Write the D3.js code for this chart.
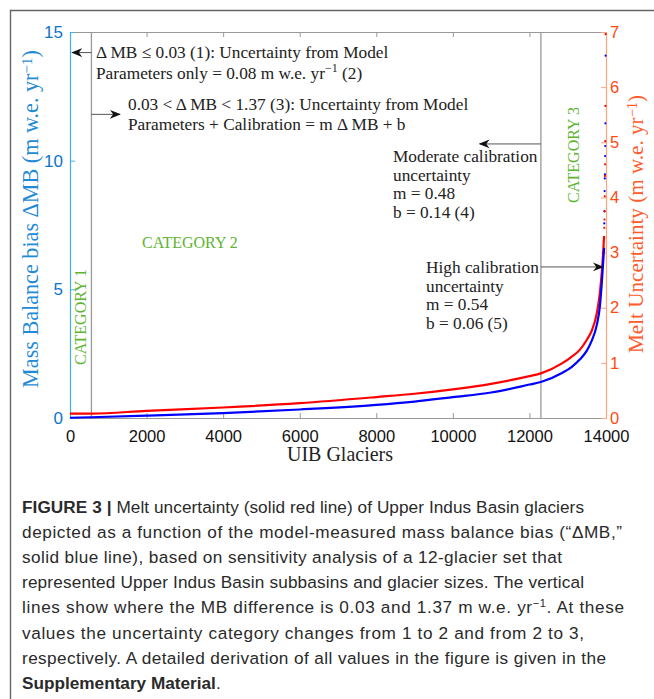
<!DOCTYPE html>
<html>
<head>
<meta charset="utf-8">
<script src="https://cdn.jsdelivr.net/npm/d3@7/dist/d3.min.js"></script>
<style>
body { margin: 0; background: #fff; }
svg { display: block; }
</style>
</head>
<body>
<div id="container"><svg></svg></div>
<script>
let width = 654;
let height = 699;

// glaciers sorted by bias; curves
let glacierIdx = [0, 560, 2000, 4000, 6000, 8000, 9000, 10000, 11000, 12000, 12300, 12850, 13100, 13320, 13500, 13620, 13760, 13840, 13890, 13930, 13950];
let deltaMB = [0.01, 0.03, 0.09, 0.19, 0.33, 0.51, 0.64, 0.81, 0.99, 1.30, 1.40, 1.75, 1.98, 2.28, 2.62, 2.98, 3.62, 4.34, 5.25, 6.16, 6.61];
let meltUnc = [0.08, 0.08, 0.13, 0.19, 0.27, 0.38, 0.44, 0.52, 0.62, 0.76, 0.81, 0.99, 1.11, 1.24, 1.42, 1.57, 1.90, 2.27, 2.64, 3.05, 3.30];

// last few glaciers only show up as single points
let tailIdx = [13955, 13960, 13964, 13968, 13972, 13976, 13980, 13984, 13990];
let tailMB = [7.56, 8.03, 8.82, 9.31, 9.47, 10.18, 10.57, 11.45, 14.08];
let tailMelt = [3.45, 3.60, 3.75, 4.02, 4.39, 4.60, 5.02, 5.66, 6.96];

// category boundaries (glacier index where dMB = 0.03 and 1.37)
let catBounds = [560, 12300];

let xTicks = [0, 2000, 4000, 6000, 8000, 10000, 12000, 14000];
let leftTicks = [0, 5, 10, 15];
let rightTicks = [0, 1, 2, 3, 4, 5, 6, 7];

let captionLines = [
    [{t: 'FIGURE 3 | ', b: true}, {t: 'Melt uncertainty (solid red line) of Upper Indus Basin glaciers'}],
    [{t: 'depicted as a function of the model-measured mass balance bias (\u201c\u0394MB,\u201d'}],
    [{t: 'solid blue line), based on sensitivity analysis of a 12-glacier set that'}],
    [{t: 'represented Upper Indus Basin subbasins and glacier sizes. The vertical'}],
    [{t: 'lines show where the MB difference is 0.03 and 1.37 m w.e. yr'}, {t: '\u22121', sup: true}, {t: '. At these'}],
    [{t: 'values the uncertainty category changes from 1 to 2 and from 2 to 3,'}],
    [{t: 'respectively. A detailed derivation of all values in the figure is given in the'}],
    [{t: 'Supplementary Material', b: true}, {t: '.'}]
];
let captionWidths = [562, 600, 540, 562, 602, 562, 584, null];

const blueAxis = '#3fb0ec', blueText = '#0d74c9';
const redAxis = '#ffa27e', redText = '#ff4a12';
const green = '#5db42f';
const serif = '"Liberation Serif", "Times New Roman", serif';
const sans = '"Liberation Sans", Arial, sans-serif';

// scale font so a label gets the length it has in the figure
function fitText(sel, target) {
    let fs = +sel.attr('font-size');
    let len = sel.node().getComputedTextLength();
    sel.attr('font-size', (fs * target / len).toFixed(2));
}

function draw_chart() {
    let svg = d3.select('#container').select('svg')
        .attr('width', width)
        .attr('height', height);

    svg.append('rect').attr('width', width).attr('height', height).attr('fill', '#fff');

    // outer frame of the figure
    svg.append('path')
        .attr('d', 'M10.5,' + height + 'V10.5H' + width)
        .attr('fill', 'none')
        .attr('stroke', '#666')
        .attr('stroke-width', 1.4);

    let x = d3.scaleLinear().domain([0, 14000]).range([70, 606]);
    let yL = d3.scaleLinear().domain([0, 15]).range([418, 32]);
    let yR = d3.scaleLinear().domain([0, 7]).range([418, 32]);

    let defs = svg.append('defs');
    defs.append('marker')
        .attr('id', 'arrow')
        .attr('viewBox', '0 0 10 10')
        .attr('refX', 9).attr('refY', 5)
        .attr('markerWidth', 11).attr('markerHeight', 11)
        .attr('markerUnits', 'userSpaceOnUse')
        .attr('orient', 'auto')
        .append('path')
        .attr('d', 'M0,1 L10,5 L0,9 L3,5 Z')
        .attr('fill', '#111');

    // top border + bottom axis (gray)
    let bottom = svg.append('g')
        .attr('transform', 'translate(0,418)')
        .call(d3.axisBottom(x).tickValues(xTicks).tickFormat(d3.format('d'))
            .tickSize(-5).tickSizeOuter(0).tickPadding(12));
    bottom.select('.domain').attr('stroke', '#999').attr('stroke-width', 1.2);
    bottom.selectAll('.tick line').attr('stroke', '#999');
    bottom.selectAll('.tick text').attr('fill', '#111').attr('font-family', sans).attr('font-size', 16.5);

    let top = svg.append('g')
        .attr('transform', 'translate(0,32)')
        .call(d3.axisTop(x).tickValues(xTicks).tickSize(-5).tickSizeOuter(0).tickFormat(''));
    top.select('.domain').attr('stroke', '#999').attr('stroke-width', 1.2);
    top.selectAll('.tick line').attr('stroke', '#999');

    // category boundary lines
    svg.append('g')
        .selectAll('line')
        .data(catBounds)
        .join('line')
        .attr('x1', d => x(d)).attr('x2', d => x(d))
        .attr('y1', yL(15)).attr('y2', yL(0))
        .attr('stroke', '#999')
        .attr('stroke-width', 1.3);

    // left axis
    let left = svg.append('g')
        .attr('transform', 'translate(70,0)')
        .call(d3.axisLeft(yL).tickValues(leftTicks).tickFormat(d3.format('d'))
            .tickSize(-5).tickSizeOuter(0).tickPadding(7));
    left.select('.domain').attr('stroke', blueAxis).attr('stroke-width', 1.2);
    left.selectAll('.tick line').attr('stroke', blueAxis);
    left.selectAll('.tick text').attr('fill', blueText).attr('font-family', sans).attr('font-size', 17);

    // right axis
    let right = svg.append('g')
        .attr('transform', 'translate(606,0)')
        .call(d3.axisRight(yR).tickValues(rightTicks).tickFormat(d3.format('d'))
            .tickSize(-5).tickSizeOuter(0).tickPadding(4));
    right.select('.domain').attr('stroke', redAxis).attr('stroke-width', 1.2);
    right.selectAll('.tick line').attr('stroke', redAxis);
    right.selectAll('.tick text').attr('fill', redText).attr('font-family', sans).attr('font-size', 16.5);

    // curves
    let blueLine = d3.line().x(d => x(d[0])).y(d => yL(d[1])).curve(d3.curveMonotoneX);
    let redLine = d3.line().x(d => x(d[0])).y(d => yR(d[1])).curve(d3.curveMonotoneX);

    svg.append('path')
        .datum(d3.zip(glacierIdx, meltUnc))
        .attr('d', redLine)
        .attr('fill', 'none')
        .attr('stroke', '#ff0000')
        .attr('stroke-width', 2.2);

    svg.append('path')
        .datum(d3.zip(glacierIdx, deltaMB))
        .attr('d', blueLine)
        .attr('fill', 'none')
        .attr('stroke', '#0000ff')
        .attr('stroke-width', 2.2);

    svg.append('g')
        .selectAll('circle')
        .data(d3.zip(tailIdx, tailMB))
        .join('circle')
        .attr('cx', d => x(d[0])).attr('cy', d => yL(d[1]))
        .attr('r', 1.1).attr('fill', '#0000ff');

    svg.append('g')
        .selectAll('circle')
        .data(d3.zip(tailIdx, tailMelt))
        .join('circle')
        .attr('cx', d => x(d[0])).attr('cy', d => yR(d[1]))
        .attr('r', 1.1).attr('fill', '#ff0000');

    // arrows
    let arrows = [
        {x1: catBounds[0], x2: 60, y: 14.2},
        {x1: catBounds[0], x2: 1300, y: 11.8},
        {x1: catBounds[1], x2: 10700, y: 10.65},
        {x1: catBounds[1], x2: 13920, y: 5.87}
    ];
    svg.append('g')
        .selectAll('line')
        .data(arrows)
        .join('line')
        .attr('x1', d => x(d.x1)).attr('x2', d => x(d.x2))
        .attr('y1', d => yL(d.y)).attr('y2', d => yL(d.y))
        .attr('stroke', '#555')
        .attr('stroke-width', 1)
        .attr('marker-end', 'url(#arrow)');

    // annotation texts (strings become {t: ...} so String.prototype.sup doesn't bite)
    function addLines(px, py, lines, step) {
        let t = svg.append('text')
            .attr('font-family', serif)
            .attr('font-size', 17.3)
            .attr('fill', '#222');
        lines.forEach((ln, i) => {
            let parts = Array.isArray(ln) ? ln : [{t: ln}];
            parts.forEach((p, j) => {
                let s = t.append('tspan').text(p.t);
                if (j == 0) s.attr('x', px).attr('y', py + i * step);
                if (p.sup === true) s.attr('font-size', 12).attr('dy', -7);
                if (j > 0 && parts[j - 1].sup === true) s.attr('dy', 7);
            });
        });
    }
    addLines(96, 58, ['\u0394 MB \u2264 0.03 (1): Uncertainty from Model',
        [{t: 'Parameters only = 0.08 m w.e. yr'}, {t: '\u22121', sup: true}, {t: ' (2)'}]], 21);
    addLines(128, 110, ['0.03 < \u0394 MB < 1.37 (3): Uncertainty from Model',
        'Parameters + Calibration = m \u0394 MB + b'], 20);
    addLines(393, 162, ['Moderate calibration', 'uncertainty', 'm = 0.48', 'b = 0.14 (4)'], 18.5);
    addLines(426, 273, ['High calibration', 'uncertainty', 'm = 0.54', 'b = 0.06 (5)'], 18.5);

    // category labels
    let cat = svg.append('g')
        .attr('font-family', serif)
        .attr('font-size', 16)
        .attr('fill', green);
    cat.append('text')
        .attr('transform', 'translate(86,317) rotate(-90)')
        .attr('text-anchor', 'middle')
        .text('CATEGORY 1');
    cat.append('text')
        .attr('x', 142).attr('y', 248)
        .text('CATEGORY 2');
    cat.append('text')
        .attr('transform', 'translate(579,155) rotate(-90)')
        .attr('text-anchor', 'middle')
        .text('CATEGORY 3');

    // axis titles
    let lt = svg.append('text')
        .attr('transform', 'translate(38,219) rotate(-90)')
        .attr('text-anchor', 'middle')
        .attr('font-family', serif)
        .attr('font-size', 20)
        .attr('fill', '#1f8ad6');
    lt.append('tspan').text('Mass Balance bias \u0394MB (m w.e. yr');
    lt.append('tspan').text('\u22121').attr('font-size', '0.68em').attr('dy', '-0.42em');
    lt.append('tspan').text(')').attr('dy', '0.29em');
    fitText(lt, 338);

    let rt = svg.append('text')
        .attr('transform', 'translate(643,224) rotate(-90)')
        .attr('text-anchor', 'middle')
        .attr('font-family', serif)
        .attr('font-size', 20)
        .attr('fill', '#ff5a2a');
    rt.append('tspan').text('Melt Uncertainty (m w.e. yr');
    rt.append('tspan').text('\u22121').attr('font-size', '0.68em').attr('dy', '-0.42em');
    rt.append('tspan').text(')').attr('dy', '0.29em');
    fitText(rt, 258);

    let xt = svg.append('text')
        .attr('x', 340).attr('y', 461)
        .attr('text-anchor', 'middle')
        .attr('font-family', serif)
        .attr('font-size', 20)
        .attr('fill', '#222')
        .text('UIB Glaciers');
    fitText(xt, 106);

    // caption
    let cap = svg.append('g')
        .attr('font-family', sans)
        .attr('font-size', 17.2)
        .attr('fill', '#2a2a2a');
    captionLines.forEach((ln, i) => {
        let t = cap.append('text').attr('x', 22).attr('y', 513 + i * 25.1);
        if (captionWidths[i]) t.attr('textLength', captionWidths[i]).attr('lengthAdjust', 'spacing');
        ln.forEach((p, j) => {
            let s = t.append('tspan').text(p.t);
            if (p.b) s.attr('font-weight', 'bold');
            if (p.sup) s.attr('font-size', 11).attr('dy', -6);
            if (j > 0 && ln[j - 1].sup) s.attr('dy', 6);
        });
    });
}

draw_chart();
</script>
</body>
</html>
